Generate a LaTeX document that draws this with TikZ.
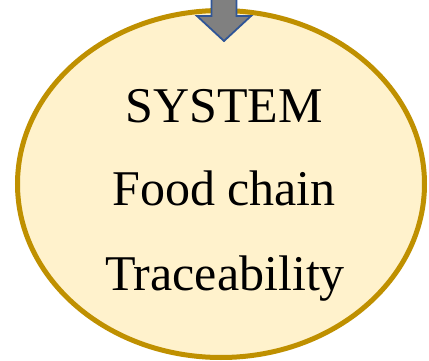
\documentclass[tikz,border=0pt]{standalone}
\usepackage{fontspec}
\setmainfont{Liberation Serif}
\usetikzlibrary{shapes.geometric, positioning}
\definecolor{sysfill}{HTML}{FFF2CC}
\definecolor{sysdraw}{HTML}{BF9000}
\definecolor{arrowdraw}{HTML}{2F5597}
\definecolor{arrowfill}{HTML}{808080}

\begin{document}
\begin{tikzpicture}[x=1pt, y=-1pt, bignode/.style={ellipse, draw=sysdraw, fill=sysfill, line width=5pt, minimum width=407pt, minimum height=347pt, inner sep=0pt}, emptynode/.style={draw=none, fill=none, inner sep=0pt, anchor=base, font=\fontsize{50}{60}\selectfont}, blockarrow/.style={draw=arrowdraw, fill=arrowfill, line width=1.8pt, line join=miter}]
    \useasboundingbox (0,0) rectangle (429,361);

    %Nodes
    \node[bignode](system) at (221,184){};
    \node[emptynode](system_text) at (224,122){SYSTEM};
    \node[emptynode](chain_text) at (224,205){Food chain};
    \node[emptynode](trace_text) at (225,290){Traceability};

    %Lines
    \coordinate (arrow_tip) at (224,41);
    \draw[blockarrow] (arrow_tip) -- (197,16) -- (211.5,16) -- (211.5,-5) -- (236.5,-5) -- (236.5,16) -- (251,16) -- cycle;

\end{tikzpicture}
\end{document}
